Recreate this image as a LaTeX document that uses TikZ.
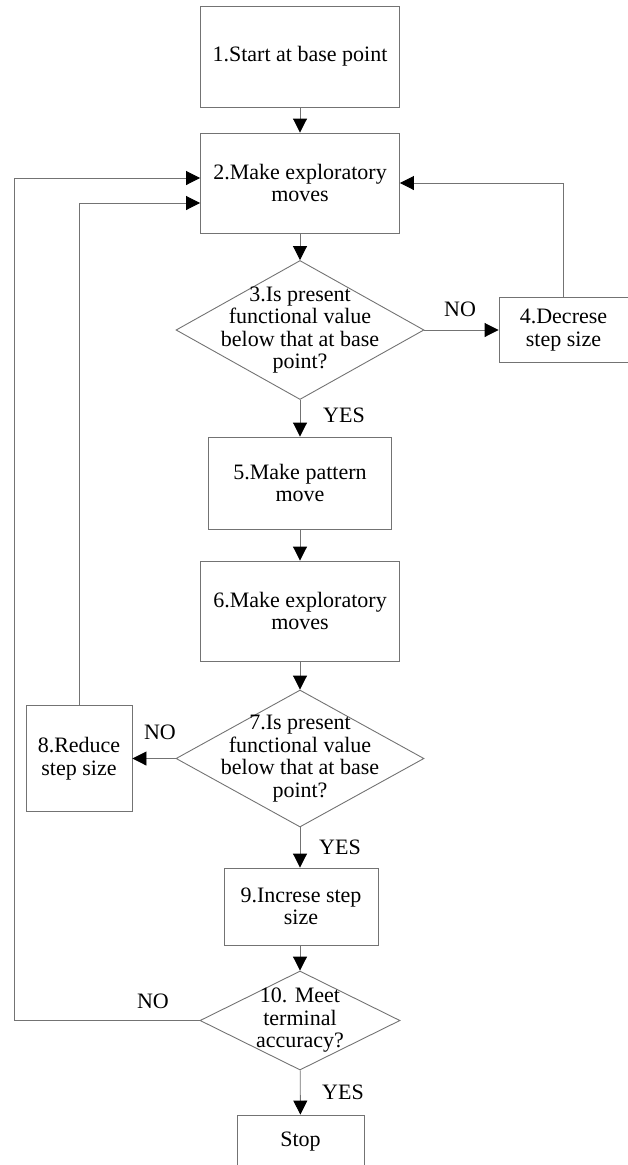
\documentclass[tikz,border=0pt]{standalone}
\usepackage{fontspec}
\setmainfont{Liberation Serif}
\usetikzlibrary{arrows.meta,shapes.geometric}

\begin{document}
\begin{tikzpicture}[x=1pt,y=-1pt,
  every node/.style={font=\fontsize{22}{22.5}\selectfont, align=center},
  stepbox/.style={draw=black!55, line width=0.9pt, inner sep=0pt},
  decision/.style={draw=black!55, line width=0.9pt, diamond, inner sep=0pt},
  flow/.style={draw=black!55, line width=0.9pt,
    -{Triangle[length=14pt,width=14pt,color=black]}},
  tag/.style={inner sep=0pt}
]
\useasboundingbox (0,0) rectangle (627,1165);

% process boxes and decisions
\node[stepbox, minimum width=199pt, minimum height=101pt] (n1) at (300,56.5) {1.Start at base point};
\node[stepbox, minimum width=199pt, minimum height=100pt] (n2) at (300,183) {2.Make exploratory\\moves};
\node[decision, minimum width=248pt, minimum height=139pt,
  label={[tag]center:3.Is present\\functional value\\below that at base\\point?}] (d3) at (300,330) {};
\node[stepbox, minimum width=129pt, minimum height=65pt] (n4) at (563.5,330) {4.Decrese\\step size};
\node[stepbox, minimum width=183pt, minimum height=92pt] (n5) at (300,483) {5.Make pattern\\move};
\node[stepbox, minimum width=199pt, minimum height=100pt] (n6) at (300,611) {6.Make exploratory\\moves};
\node[decision, minimum width=248pt, minimum height=137pt,
  label={[tag]center:7.Is present\\functional value\\below that at base\\point?}] (d7) at (300,758.5) {};
\node[stepbox, minimum width=106pt, minimum height=106pt] (n8) at (79,758.5) {8.Reduce\\step size};
\node[stepbox, minimum width=154pt, minimum height=77pt] (n9) at (301,906.5) {9.Increse step\\size};
\node[decision, minimum width=200pt, minimum height=99pt,
  label={[tag]center:10. Meet\\terminal\\accuracy?}] (d10) at (300,1020.5) {};
\node[stepbox, minimum width=127pt, minimum height=62pt,
  label={[tag,yshift=4pt]center:Stop}] (stop) at (300.5,1146) {};

% branch labels
\node[tag] (no3) at (460,309) {NO};
\node[tag] (yes3) at (344,415) {YES};
\node[tag] (no7) at (160,732) {NO};
\node[tag] (yes7) at (340,847) {YES};
\node[tag] (no10) at (153,1001) {NO};
\node[tag] (yes10) at (343,1092) {YES};

% corner of the outer return line
\coordinate (c10) at (14,1020.5);

% main flow
\draw[flow] (n1) -- (n2);
\draw[flow] (n2) -- (d3);
\draw[flow] (d3) -- (n4);
\draw[flow] (d3) -- (n5);
\draw[flow] (n5) -- (n6);
\draw[flow] (n6) -- (d7);
\draw[flow] (d7) -- (n8);
\draw[flow] (d7.south) -- (d7.south |- n9.north);
\draw[flow] (n9.south -| d10.north) -- (d10.north);
\draw[flow] (d10) -- (stop);

% return lines
\draw[flow] (n4.north) |- (n2.east);
\draw[flow] (n8.north) |- ([yshift=-20pt]n2.west);
\draw[flow] (d10.west) -- (c10) |- ([yshift=5pt]n2.west);
\end{tikzpicture}
\end{document}
